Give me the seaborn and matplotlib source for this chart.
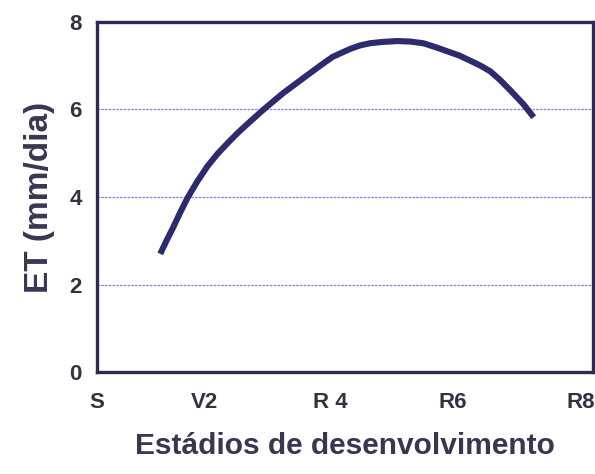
import pandas as pd
import numpy as np
import matplotlib.pyplot as plt
import seaborn as sns

# Stage labels on the x axis and where they sit (0 = S, 4 = R8)
stages = ['S', 'V2', 'R 4', 'R6', 'R8']
stage_pos = [0.0, 0.87, 1.88, 2.87, 3.9]

# ET curve (stage units vs mm/day)
stage_x = [0.51, 0.56, 0.61, 0.67, 0.73, 0.81, 0.89, 0.97, 1.05, 1.13, 1.21,
           1.34, 1.50, 1.60, 1.69, 1.80, 1.90, 2.04, 2.12, 2.20, 2.30, 2.42,
           2.52, 2.63, 2.72, 2.82, 2.92, 3.01, 3.09, 3.17, 3.25, 3.33, 3.44,
           3.52]
et_mm = [2.70, 3.00, 3.28, 3.64, 3.98, 4.36, 4.70, 4.98, 5.22, 5.45, 5.66,
         5.99, 6.37, 6.58, 6.77, 7.00, 7.20, 7.38, 7.46, 7.51, 7.54, 7.56,
         7.55, 7.51, 7.43, 7.33, 7.23, 7.11, 7.00, 6.87, 6.67, 6.44, 6.11,
         5.82]

y_ticks = [0, 2, 4, 6, 8]

df = pd.DataFrame({'stage': stage_x, 'ET': et_mm})

sns.set_style('white')
plt.rcParams['font.family'] = ['Liberation Sans', 'DejaVu Sans']
plt.rcParams['font.weight'] = 'bold'

fig = plt.figure(figsize=(5.95, 4.74), dpi=100)
ax = fig.add_axes([0.163, 0.215, 0.834, 0.739])

# light dotted gridlines at 2, 4, 6
for yv in y_ticks[1:-1]:
    ax.axhline(yv, color='#8a78e0', lw=0.9, ls=(0, (2, 1)), zorder=1)

sns.lineplot(data=df, x='stage', y='ET', ax=ax, sort=False, estimator=None,
             color='#2d2a6e', lw=4.4, solid_capstyle='butt',
             solid_joinstyle='round', zorder=3)

ax.set_xlim(0, 4)
ax.set_ylim(0, 8)
ax.set_xticks(stage_pos)
ax.set_xticklabels(stages)
ax.set_yticks(y_ticks)
ax.tick_params(axis='x', length=0, pad=14, labelsize=16, labelcolor='#333340')
ax.tick_params(axis='y', length=0, pad=11, labelsize=16, labelcolor='#333340')
for lab in ax.get_xticklabels() + ax.get_yticklabels():
    lab.set_fontweight('bold')

for sp in ax.spines.values():
    sp.set_visible(True)
    sp.set_color('#2b2b55')
    sp.set_linewidth(2.4)

ax.set_xlabel('Estádios de desenvolvimento', fontsize=21.5, fontweight='bold',
              color='#3a3550', labelpad=14)
ax.set_ylabel('ET (mm/dia)', fontsize=24, fontweight='bold',
              color='#3a3550', labelpad=10)

fig.savefig('out.png', dpi=100)
